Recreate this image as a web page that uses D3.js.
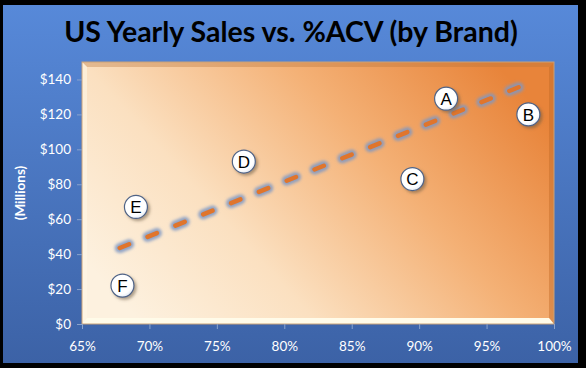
<!DOCTYPE html>
<html>
<head>
<meta charset="utf-8">
<script src="https://cdn.jsdelivr.net/npm/d3@7"></script>
<style>
  html, body { margin: 0; padding: 0; background: #000; }
  svg { display: block; }
</style>
</head>
<body>
<div id="chart"></div>
<script>
// brand data
const brands = ["A", "B", "C", "D", "E", "F"];
const acv = [0.92, 0.981, 0.895, 0.77, 0.69, 0.68];
const sales = [129, 120, 83, 93, 67, 22];

// trend line end points
const trendX = [0.678, 0.98];
const trendY = [43.5, 137.5];

const xTicks = [0.65, 0.7, 0.75, 0.8, 0.85, 0.9, 0.95, 1.0];
const yTicks = [0, 20, 40, 60, 80, 100, 120, 140];

const width = 586, height = 368;
const margin = { top: 62, right: 32, bottom: 44, left: 82 };
const w = width - margin.left - margin.right,
  h = height - margin.top - margin.bottom;

const x = d3.scaleLinear().domain([0.65, 1.0]).range([0, w]);
const y = d3.scaleLinear().domain([0, 150]).range([h, 0]);

const svg = d3
  .select("#chart")
  .append("svg")
  .attr("width", width)
  .attr("height", height);

const defs = svg.append("defs");

const bg = defs.append("linearGradient").attr("id", "bg")
  .attr("x1", 0).attr("y1", 0).attr("x2", 0).attr("y2", 1);
bg.append("stop").attr("offset", 0).attr("stop-color", "#5789d9");
bg.append("stop").attr("offset", 1).attr("stop-color", "#3c62a6");

const plotFill = defs.append("linearGradient").attr("id", "plotFill")
  .attr("x1", 0).attr("y1", 0.75).attr("x2", 1).attr("y2", 0.25);
plotFill.append("stop").attr("offset", 0).attr("stop-color", "#fdf1df");
plotFill.append("stop").attr("offset", 0.3).attr("stop-color", "#fbe0c0");
plotFill.append("stop").attr("offset", 0.65).attr("stop-color", "#f4b176");
plotFill.append("stop").attr("offset", 1).attr("stop-color", "#e8843a");

const ball = defs.append("radialGradient").attr("id", "ball")
  .attr("cx", 0.4).attr("cy", 0.35).attr("r", 0.7);
ball.append("stop").attr("offset", 0).attr("stop-color", "#ffffff");
ball.append("stop").attr("offset", 0.75).attr("stop-color", "#ffffff");
ball.append("stop").attr("offset", 1).attr("stop-color", "#dfe6f1");

const blur = defs.append("filter").attr("id", "glow")
  .attr("x", -0.2).attr("y", -0.5).attr("width", 1.4).attr("height", 2);
blur.append("feGaussianBlur").attr("stdDeviation", 1.6);

const shadow = defs.append("filter").attr("id", "shadow")
  .attr("x", -0.5).attr("y", -0.5).attr("width", 2).attr("height", 2);
shadow.append("feDropShadow").attr("dx", 2).attr("dy", 2)
  .attr("stdDeviation", 1.5).attr("flood-color", "#6b5a45").attr("flood-opacity", 0.55);

// background
svg.append("rect")
  .attr("x", 3).attr("y", 5)
  .attr("width", 575).attr("height", 358)
  .attr("fill", "url(#bg)");

svg.append("text")
  .attr("x", 291).attr("y", 42)
  .attr("text-anchor", "middle")
  .attr("font-family", "Lato, sans-serif")
  .attr("font-weight", "bold")
  .attr("font-size", 28.5)
  .attr("fill", "#000")
  .text("US Yearly Sales vs. %ACV (by Brand)");

const g = svg.append("g")
  .attr("transform", `translate(${margin.left},${margin.top})`);

// plot area with a bevel
g.append("rect").attr("width", w).attr("height", h).attr("fill", "url(#plotFill)");
g.append("path").attr("d", `M0,0H${w}L${w - 5},5H5Z`).attr("fill", "#b8733a").attr("opacity", 0.35);
g.append("path").attr("d", `M0,0L5,5V${h - 6}L0,${h}Z`).attr("fill", "#fff6e6").attr("opacity", 0.6);
g.append("path").attr("d", `M${w},0V${h}L${w - 5},${h - 6}V5Z`).attr("fill", "#c06a28").attr("opacity", 0.45);
g.append("path").attr("d", `M0,${h}H${w}L${w - 5},${h - 6}H5Z`).attr("fill", "#fffbe9");
g.append("rect").attr("width", w).attr("height", h)
  .attr("fill", "none").attr("stroke", "#c9a27a").attr("stroke-width", 1);

// axes
const xAxis = g.append("g")
  .attr("transform", `translate(0,${h})`)
  .call(d3.axisBottom(x).tickValues(xTicks).tickFormat(d3.format(".0%")).tickSize(5).tickPadding(12));
const yAxis = g.append("g")
  .call(d3.axisLeft(y).tickValues(yTicks).tickFormat((d) => "$" + d).tickSize(5).tickPadding(6));

[xAxis, yAxis].forEach((a) => {
  a.select(".domain").remove();
  a.selectAll("line").attr("stroke", "#8aa3cc");
  a.selectAll("text")
    .attr("fill", "#fff")
    .attr("font-family", "Lato, sans-serif")
    .attr("font-size", 13.5);
});

svg.append("text")
  .attr("transform", `translate(25,${margin.top + h / 2}) rotate(-90)`)
  .attr("text-anchor", "middle")
  .attr("font-family", "Lato, sans-serif")
  .attr("font-weight", "bold")
  .attr("font-size", 13.5)
  .attr("fill", "#fff")
  .text("(Millions)");

// trend line
const trend = trendX.map((d, i) => [x(d), y(trendY[i])]);
const line = d3.line();
g.append("path")
  .attr("d", line(trend))
  .attr("fill", "none")
  .attr("stroke", "#7d96c4")
  .attr("stroke-opacity", 0.85)
  .attr("stroke-width", 10)
  .attr("stroke-linecap", "round")
  .attr("stroke-dasharray", "10 20")
  .attr("filter", "url(#glow)");
g.append("path")
  .attr("d", line(trend))
  .attr("fill", "none")
  .attr("stroke", "#e0752c")
  .attr("stroke-width", 4.5)
  .attr("stroke-linecap", "round")
  .attr("stroke-dasharray", "10 20");

// brand labels
const pts = g.append("g").selectAll("g")
  .data(brands)
  .enter()
  .append("g")
  .attr("transform", (d, i) => `translate(${x(acv[i])},${y(sales[i])})`);
pts.append("circle")
  .attr("r", 11.5)
  .attr("fill", "url(#ball)")
  .attr("stroke", "#4f6386")
  .attr("stroke-width", 1.2)
  .attr("filter", "url(#shadow)");
pts.append("text")
  .attr("text-anchor", "middle")
  .attr("dy", "0.36em")
  .attr("font-family", "Liberation Sans, Arial, sans-serif")
  .attr("font-size", 17)
  .attr("fill", "#000")
  .text((d) => d);
</script>
</body>
</html>
